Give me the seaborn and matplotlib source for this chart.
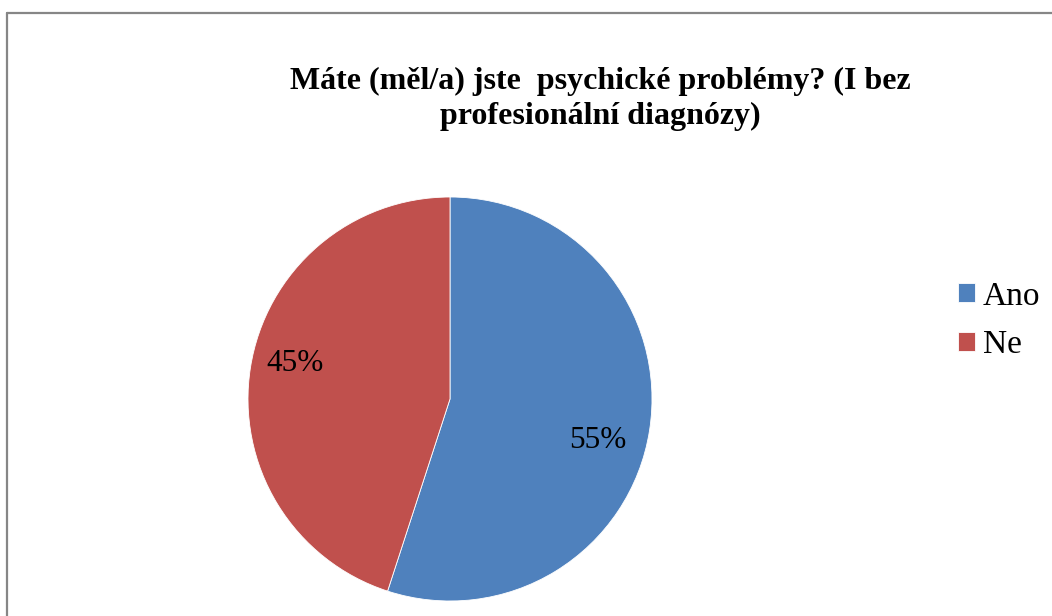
import matplotlib
matplotlib.use("Agg")
import matplotlib.pyplot as plt
import seaborn as sns
import numpy as np

# data
labels = ["Ano", "Ne"]
values = [55, 45]
colors = ["#4F81BD", "#C0504D"]
title = "Máte (měl/a) jste  psychické problémy? (I bez\nprofesionální diagnózy)"

sns.set_theme(style="white")
plt.rcParams['font.family'] = ['Liberation Serif', 'DejaVu Serif']
plt.rcParams['text.color'] = 'black'

W, H = 1052, 616
fig = plt.figure(figsize=(W / 100, H / 100), dpi=100)

# outer chart border (runs off right/bottom like the source crop)
fig.add_artist(plt.Line2D([7 / W, 7 / W], [0, 1 - 13 / H], color="#868686", lw=1.6))
fig.add_artist(plt.Line2D([7 / W, 1], [1 - 13 / H, 1 - 13 / H], color="#868686", lw=1.6))

# pie axes: center (450, 399), radius 202 px
cx, cy, r = 450, 399, 202
ax = fig.add_axes([(cx - r) / W, (H - cy - r) / H, 2 * r / W, 2 * r / H])
wedges, texts, autotexts = ax.pie(values, colors=colors, startangle=90, counterclock=False,
                                  autopct="%1.0f%%", pctdistance=0.77, radius=1,
                                  wedgeprops=dict(edgecolor="white", linewidth=0.6),
                                  textprops=dict(fontsize=22.5, color="black"))
# Excel places the labels slightly rotated from the wedge middle
label_shift = [-6.5, -4.0]
label_dist = [0.76, 0.785]
for w, t, s, d in zip(wedges, autotexts, label_shift, label_dist):
    ang = np.deg2rad((w.theta1 + w.theta2) / 2 + s)
    t.set_position((d * np.cos(ang), d * np.sin(ang)))
ax.set_xlim(-1, 1)
ax.set_ylim(-1, 1)
ax.set_aspect("equal")
ax.axis("off")

fig.text(600 / W, 1 - 99 / H, title, ha="center", va="center", fontsize=23,
         fontweight="bold", linespacing=1.25, color="black")

leg = fig.legend(wedges, labels, loc="upper left", bbox_to_anchor=(958 / W, 1 - 281 / H),
                 frameon=False, fontsize=24, handlelength=0.52, handleheight=0.52,
                 handletextpad=0.22, labelspacing=0.55, borderpad=0, borderaxespad=0)
for t in leg.get_texts():
    t.set_color("black")

fig.savefig("out.png", dpi=100, facecolor="white")
